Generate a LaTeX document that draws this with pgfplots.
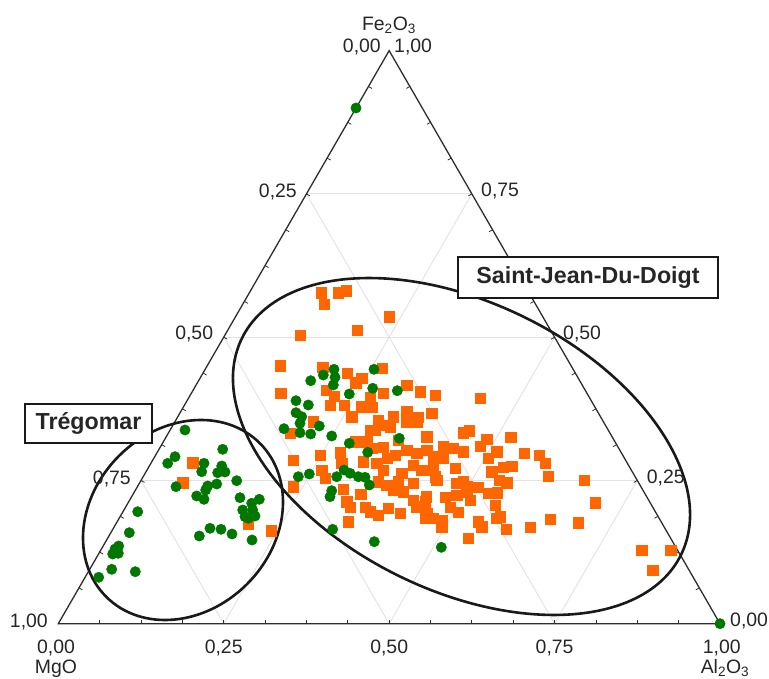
\documentclass[border=0pt]{standalone}
\usepackage{pgfplots}
\pgfplotsset{compat=1.18}
\usepackage{pgfplotstable}
\usepackage{fontspec}
\setmainfont{Liberation Sans}

\definecolor{sjorange}{RGB}{255,102,0}
\definecolor{trgreen}{RGB}{0,120,0}
\definecolor{gridgray}{RGB}{226,226,226}
\definecolor{axgray}{RGB}{45,45,45}
\newcommand{\tickfont}{\fontsize{19.5}{21}\selectfont}
\newcommand{\boxfont}{\fontsize{23.3}{25}\selectfont\bfseries}
\tikzset{lab/.style={inner sep=0pt, font=\tickfont, text=black!85}}

% Cartesian frame of the ternary diagram (side of triangle = 661.7 units)
\pgfplotstableread{
x y
297.7 515.7
661.7 0
126.7 193.7
164.4 174.4
116.7 167
109.4 160.4
145.7 160.4
163.4 157.7
143.4 152
159.4 151
166.7 151.7
117.7 137
178.4 143
158.4 139.7
149.4 137.7
147.4 133.7
138.4 127.7
145.7 124.4
181.7 126
201 124.4
193.4 120.4
184.4 113.7
194.4 113.7
186.7 107
190 105.4
196.7 107.7
79.4 112
71 91
151.7 95.4
162.7 94.4
173.7 89.7
141 87.7
193.7 83.7
60.4 77.7
54.4 69.7
60 70.4
56.7 74.7
53.4 54.4
77 52
40.4 46.4
240 147
275.7 254.4
315.7 254.4
265 248.7
276.7 246.4
252.4 243
275 238.7
314.4 235.4
291 229.7
339 233
237.7 223
250 218.7
237.7 211
243.4 207
241.7 200.4
261 197.7
225.7 195
241.7 191
252.4 189.7
273.4 187.7
341 185.4
291 180.4
309.4 171.4
251 149.7
278.4 147
285.7 153.7
291.7 150.4
300 147
306.7 146.4
311 138.7
273.4 133
271.7 127
274.4 94.4
316 82
383 76.4
}\greendata

\pgfplotstableread{
x y
134.4 161
124.4 141
190 99.7
212.7 93
235 163.7
235 137
262.7 331
280 331
287.7 333
265.7 319.7
330.7 307
299 293.7
241.7 288.7
221.7 258
264.4 256.4
324 255.7
289 250.4
303.4 245.4
297.4 241
222.4 230.4
267.7 233.7
275.7 227.7
325 230.4
311.7 226.4
348.4 238.7
361.7 232
376.7 228.7
271.7 218.7
285.7 218.7
302.7 217
313.4 216.4
293.4 207
255 202
320 203.7
335 207
348.4 212
360 206.4
373.4 210.4
348.4 202
328.4 198.7
316.7 193.7
231.7 190.4
368.4 187
261.7 168.7
281.7 171
296.7 182
308.4 182
311.7 193.7
321.7 198.7
331.7 197
358.4 202
348.4 173.7
358.4 170.4
368.4 173.7
378.4 167
385 177
395 175.4
405 172
405 191
305 162
318.4 160.4
325 153.7
263.4 153.7
283.4 160.4
266.7 145.4
320 142
328.4 138.7
340 142
343.4 150.4
355 158.7
363.4 153.7
375 153.7
378.4 143.7
355 140.4
335 133.7
345 132
398.4 140.4
405 142
398.4 128.7
408.4 132
386.7 126.4
391.7 116.4
285 134.4
302.4 129.7
288.4 122
291.7 116.4
306.7 116.4
311.7 112
320 108.7
330 115.4
341.7 110.4
355 123.7
358.4 117
366.7 122
368.4 110.4
366.7 105.4
375 105.4
383.4 103.7
383.4 97
290 102
410 85.4
421.7 225.4
411 193
428.4 184.4
452.4 186.4
421.7 177.7
438.4 172
430 165.4
465.7 170.4
481 168.7
486.7 160.4
453.4 157.7
445 156.4
433.4 152
375 163.7
385 165.4
376.7 147
441 143.7
448.4 141
490 147.7
526 143.7
408.4 137.7
420 136.4
430 130.4
439 131
367.7 127
436.7 118.7
536.7 121
441.7 107
437.7 105.4
420 102
491.7 104.4
520 101
471.7 96.4
447.7 94.4
423.4 97
583.4 73.7
612.4 73.7
594.4 53.7
339.7 183.7
324.7 176.7
336.7 168.7
313.7 175.7
328.7 165.7
396.7 155.7
411.7 123.7
399.7 111.7
}\orangedata

\begin{document}
\begin{tikzpicture}
\useasboundingbox (0,0) rectangle (769bp,679bp);
\begin{axis}[
  at={(58.3bp,55.3bp)}, anchor=south west,
  scale only axis, width=661.7bp, height=573.05bp,
  xmin=0, xmax=661.7, ymin=0, ymax=573.05,
  axis lines=none, clip=false,
]
% grid lines at 0.25, 0.50, 0.75
\draw[gridgray, line width=0.9bp] (axis cs:82.71,143.26) -- (axis cs:578.99,143.26);
\draw[gridgray, line width=0.9bp] (axis cs:165.43,286.53) -- (axis cs:496.28,286.53);
\draw[gridgray, line width=0.9bp] (axis cs:248.14,429.79) -- (axis cs:413.56,429.79);
\draw[gridgray, line width=0.9bp] (axis cs:165.43,0) -- (axis cs:413.56,429.79);
\draw[gridgray, line width=0.9bp] (axis cs:330.85,0) -- (axis cs:496.28,286.53);
\draw[gridgray, line width=0.9bp] (axis cs:496.28,0) -- (axis cs:578.99,143.26);
\draw[gridgray, line width=0.9bp] (axis cs:496.28,0) -- (axis cs:248.14,429.79);
\draw[gridgray, line width=0.9bp] (axis cs:330.85,0) -- (axis cs:165.43,286.53);
\draw[gridgray, line width=0.9bp] (axis cs:165.43,0) -- (axis cs:82.71,143.26);
% triangle
\draw[axgray, line width=1.3bp, line join=miter] (axis cs:0,0) -- (axis cs:661.7,0) -- (axis cs:330.85,573.05) -- cycle;
% ticks
\pgfplotsinvokeforeach{1,...,15}{
  \draw[axgray, line width=0.8bp] (axis cs:{#1*41.35625},0) -- ++(0,4bp);
  \draw[axgray, line width=0.8bp] (axis cs:{#1*20.678},{#1*35.8156}) -- ++(3.46bp,-2bp);
  \draw[axgray, line width=0.8bp] (axis cs:{661.7-#1*20.678},{#1*35.8156}) -- ++(-3.46bp,-2bp);
}
% data
\addplot[only marks, mark=square*, mark size=5.2bp, mark options={draw=sjorange, fill=sjorange}] table[x=x, y=y] {\orangedata};
\addplot[only marks, mark=*, mark size=5.2bp, mark options={draw=trgreen, fill=trgreen}] table[x=x, y=y] {\greendata};
% ellipses
\draw[black!90, line width=2.6bp, rotate around={45:(axis cs:124.7,103.7)}] (axis cs:124.7,103.7) ellipse [x radius=108.6bp, y radius=90.6bp];
\draw[black!90, line width=2.6bp, rotate around={-26.3:(axis cs:403.2,177.2)}] (axis cs:403.2,177.2) ellipse [x radius=244.8bp, y radius=143.8bp];
% boxes
\node[draw=black!90, line width=1.5bp, fill=white, inner sep=0pt, minimum width=127bp, minimum height=39bp, font=\boxfont, text=black!85] at (axis cs:30.2,200.2) {Trégomar};
\node[draw=black!90, line width=1.5bp, fill=white, inner sep=0pt, minimum width=260bp, minimum height=41bp, font=\boxfont, text=black!85] at (axis cs:529.7,346.2) {Saint-Jean-Du-Doigt};
% left side labels (MgO)
\node[lab, anchor=base east] at (axis cs:238.7,426) {0,25};
\node[lab, anchor=base east] at (axis cs:155,283.7) {0,50};
\node[lab, anchor=base east] at (axis cs:72.7,139) {0,75};
\node[lab, anchor=base east] at (axis cs:-10.3,-4) {1,00};
% top
\node[lab, anchor=base east] at (axis cs:322.7,571) {0,00};
\node[lab, anchor=base west] at (axis cs:335.7,571) {1,00};
\node[lab, anchor=base] at (axis cs:330.7,593) {Fe\textsubscript{2}O\textsubscript{3}};
% right side labels (Fe2O3)
\node[lab, anchor=base west] at (axis cs:422.7,426.7) {0,75};
\node[lab, anchor=base west] at (axis cs:504.7,283.7) {0,50};
\node[lab, anchor=base west] at (axis cs:588.4,139.7) {0,25};
\node[lab, anchor=base west] at (axis cs:671.7,-2.3) {0,00};
% bottom labels (Al2O3)
\node[lab, anchor=base] at (axis cs:-2.3,-29.6) {0,00};
\node[lab, anchor=base] at (axis cs:165.4,-29.6) {0,25};
\node[lab, anchor=base] at (axis cs:330.85,-29.6) {0,50};
\node[lab, anchor=base] at (axis cs:496.3,-29.6) {0,75};
\node[lab, anchor=base] at (axis cs:663.4,-29.6) {1,00};
\node[lab, anchor=base] at (axis cs:-2.3,-49.8) {MgO};
\node[lab, anchor=base] at (axis cs:666.7,-49.3) {Al\textsubscript{2}O\textsubscript{3}};
\end{axis}
\end{tikzpicture}
\end{document}
